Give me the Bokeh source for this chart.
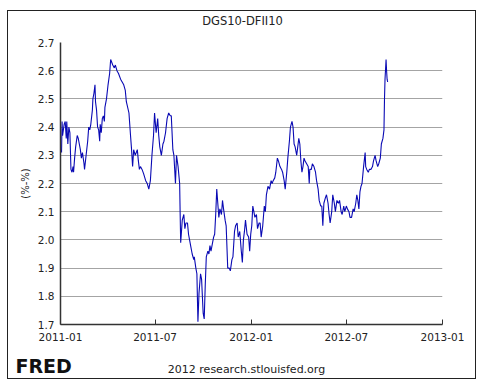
import pandas as pd
from bokeh.plotting import figure
from bokeh.layouts import column
from bokeh.core.properties import value
from bokeh.models import (Range1d, FixedTicker, PrintfTickFormatter,
                          DatetimeTickFormatter, ColumnDataSource)
from bokeh.embed import file_html
from bokeh.resources import INLINE

title_text = "DGS10-DFII10"
y_axis_title = "(%-%)"
footer_text = "2012 research.stlouisfed.org"
logo_text = "FRED"

x_tick_labels = ["2011-01", "2011-07", "2012-01", "2012-07", "2013-01"]
y_ticks = [1.7, 1.8, 1.9, 2.0, 2.1, 2.2, 2.3, 2.4, 2.5, 2.6, 2.7]

obs_dates = [
    "2011-01-03", "2011-01-04", "2011-01-05", "2011-01-08", "2011-01-10", "2011-01-12",
    "2011-01-13", "2011-01-15", "2011-01-17", "2011-01-19", "2011-01-21", "2011-01-23",
    "2011-01-25", "2011-01-26", "2011-01-28", "2011-01-30", "2011-02-02", "2011-02-04",
    "2011-02-06", "2011-02-08", "2011-02-10", "2011-02-12", "2011-02-15", "2011-02-16",
    "2011-02-19", "2011-02-22", "2011-02-24", "2011-02-26", "2011-02-28", "2011-03-03",
    "2011-03-04", "2011-03-06", "2011-03-08", "2011-03-09", "2011-03-11", "2011-03-13",
    "2011-03-15", "2011-03-17", "2011-03-18", "2011-03-20", "2011-03-22", "2011-03-24",
    "2011-03-26", "2011-03-27", "2011-03-30", "2011-04-02", "2011-04-05", "2011-04-07",
    "2011-04-09", "2011-04-11", "2011-04-14", "2011-04-16", "2011-04-19", "2011-04-22",
    "2011-04-26", "2011-04-29", "2011-05-02", "2011-05-05", "2011-05-07", "2011-05-12",
    "2011-05-15", "2011-05-17", "2011-05-19", "2011-05-21", "2011-05-24", "2011-05-28",
    "2011-05-30", "2011-06-01", "2011-06-03", "2011-06-06", "2011-06-09", "2011-06-13",
    "2011-06-16", "2011-06-19", "2011-06-22", "2011-06-25", "2011-06-28", "2011-06-30",
    "2011-07-03", "2011-07-06", "2011-07-08", "2011-07-10", "2011-07-13", "2011-07-16",
    "2011-07-18", "2011-07-21", "2011-07-24", "2011-07-27", "2011-07-30", "2011-08-01",
    "2011-08-04", "2011-08-06", "2011-08-09", "2011-08-11", "2011-08-14", "2011-08-17",
    "2011-08-18", "2011-08-19", "2011-08-22", "2011-08-25", "2011-08-27", "2011-08-29",
    "2011-09-01", "2011-09-03", "2011-09-05", "2011-09-07", "2011-09-10", "2011-09-13",
    "2011-09-14", "2011-09-17", "2011-09-19", "2011-09-21", "2011-09-23", "2011-09-26",
    "2011-09-28", "2011-10-01", "2011-10-03", "2011-10-05", "2011-10-07", "2011-10-10",
    "2011-10-12", "2011-10-14", "2011-10-16", "2011-10-19", "2011-10-21", "2011-10-23",
    "2011-10-25", "2011-10-27", "2011-10-29", "2011-10-31", "2011-11-02", "2011-11-05",
    "2011-11-07", "2011-11-09", "2011-11-12", "2011-11-14", "2011-11-17", "2011-11-20",
    "2011-11-22", "2011-11-25", "2011-11-27", "2011-11-30", "2011-12-02", "2011-12-05",
    "2011-12-07", "2011-12-10", "2011-12-13", "2011-12-15", "2011-12-17", "2011-12-19",
    "2011-12-21", "2011-12-24", "2011-12-27", "2011-12-29", "2011-12-31", "2012-01-02",
    "2012-01-04", "2012-01-06", "2012-01-08", "2012-01-11", "2012-01-13", "2012-01-16",
    "2012-01-18", "2012-01-20", "2012-01-23", "2012-01-26", "2012-01-28", "2012-01-30",
    "2012-02-02", "2012-02-05", "2012-02-08", "2012-02-10", "2012-02-12", "2012-02-15",
    "2012-02-17", "2012-02-20", "2012-02-22", "2012-02-25", "2012-02-28", "2012-03-01",
    "2012-03-04", "2012-03-06", "2012-03-09", "2012-03-11", "2012-03-14", "2012-03-16",
    "2012-03-19", "2012-03-21", "2012-03-23", "2012-03-25", "2012-03-28", "2012-03-30",
    "2012-04-01", "2012-04-03", "2012-04-05", "2012-04-07", "2012-04-09", "2012-04-11",
    "2012-04-13", "2012-04-16", "2012-04-19", "2012-04-21", "2012-04-22", "2012-04-25",
    "2012-04-27", "2012-04-30", "2012-05-03", "2012-05-05", "2012-05-08", "2012-05-10",
    "2012-05-13", "2012-05-15", "2012-05-17", "2012-05-19", "2012-05-22", "2012-05-24",
    "2012-05-27", "2012-05-29", "2012-05-31", "2012-06-03", "2012-06-05", "2012-06-08",
    "2012-06-10", "2012-06-13", "2012-06-16", "2012-06-18", "2012-06-21", "2012-06-23",
    "2012-06-26", "2012-06-28", "2012-07-01", "2012-07-03", "2012-07-06", "2012-07-08",
    "2012-07-11", "2012-07-14", "2012-07-16", "2012-07-19", "2012-07-21", "2012-07-23",
    "2012-07-25", "2012-07-27", "2012-07-29", "2012-07-31", "2012-08-03", "2012-08-06",
    "2012-08-07", "2012-08-09", "2012-08-12", "2012-08-14", "2012-08-17", "2012-08-20",
    "2012-08-22", "2012-08-25", "2012-08-27", "2012-08-30", "2012-09-01", "2012-09-04",
    "2012-09-06", "2012-09-09", "2012-09-11", "2012-09-12", "2012-09-13", "2012-09-15",
    "2012-09-16", "2012-09-17", "2012-09-18",
]

spread_values = [
    2.31, 2.42, 2.37, 2.41, 2.42, 2.36,
    2.42, 2.34, 2.40, 2.38, 2.25, 2.24,
    2.26, 2.24, 2.29, 2.33, 2.37, 2.36,
    2.34, 2.32, 2.29, 2.31, 2.27, 2.25,
    2.30, 2.35, 2.40, 2.39, 2.41, 2.46,
    2.50, 2.52, 2.55, 2.49, 2.46, 2.40,
    2.39, 2.35, 2.41, 2.38, 2.43, 2.44,
    2.42, 2.47, 2.50, 2.55, 2.59, 2.64,
    2.63, 2.62, 2.61, 2.62, 2.60, 2.59,
    2.57, 2.56, 2.55, 2.53, 2.49, 2.45,
    2.37, 2.32, 2.26, 2.32, 2.30, 2.32,
    2.28, 2.25, 2.26, 2.25, 2.235, 2.21,
    2.20, 2.18, 2.21, 2.30, 2.37, 2.45,
    2.38, 2.43, 2.37, 2.33, 2.30, 2.34,
    2.35, 2.38, 2.43, 2.45, 2.44, 2.44,
    2.32, 2.30, 2.20, 2.30, 2.26, 2.20,
    2.09, 1.99, 2.07, 2.09, 2.04, 2.06,
    2.06, 2.02, 2.00, 1.98, 1.95, 1.93,
    1.94, 1.90, 1.88, 1.71, 1.81, 1.88,
    1.86, 1.74, 1.72, 1.84, 1.94, 1.96,
    1.95, 1.98, 1.96, 1.99, 2.01, 2.02,
    2.09, 2.18, 2.13, 2.08, 2.11, 2.09,
    2.14, 2.11, 2.07, 2.05, 1.90, 1.90,
    1.89, 1.93, 1.94, 2.03, 2.05, 2.06,
    2.01, 2.03, 1.96, 1.92, 2.00, 2.03,
    2.07, 2.02, 2.01, 1.96, 2.02, 2.05,
    2.12, 2.10, 2.08, 2.09, 2.04, 2.06,
    2.06, 2.01, 2.05, 2.12, 2.10, 2.16,
    2.19, 2.18, 2.21, 2.20, 2.21, 2.22,
    2.24, 2.29, 2.28, 2.26, 2.25, 2.24,
    2.21, 2.18, 2.24, 2.29, 2.35, 2.40,
    2.42, 2.40, 2.34, 2.33, 2.30, 2.33,
    2.36, 2.34, 2.28, 2.24, 2.26, 2.29,
    2.28, 2.27, 2.26, 2.20, 2.25, 2.25,
    2.27, 2.26, 2.24, 2.21, 2.18, 2.14,
    2.12, 2.12, 2.05, 2.13, 2.15, 2.16,
    2.13, 2.09, 2.06, 2.10, 2.16, 2.13,
    2.10, 2.14, 2.13, 2.14, 2.10, 2.09,
    2.12, 2.10, 2.12, 2.11, 2.10, 2.08,
    2.08, 2.11, 2.10, 2.13, 2.16, 2.14,
    2.11, 2.17, 2.19, 2.20, 2.26, 2.31,
    2.26, 2.25, 2.24, 2.25, 2.25, 2.26,
    2.28, 2.30, 2.28, 2.26, 2.27, 2.29,
    2.34, 2.36, 2.39, 2.50, 2.57, 2.64,
    2.60, 2.57, 2.56,
]

source = ColumnDataSource(data=dict(date=pd.to_datetime(obs_dates), value=spread_values))

x_tick_ms = [pd.Timestamp(t + "-01").value // 10**6 for t in x_tick_labels]


def text_strip(height):
    s = figure(width=467, height=height, x_range=Range1d(0, 467), y_range=Range1d(0, height),
               min_border=0, x_axis_location=None, y_axis_location=None,
               output_backend="svg", toolbar_location=None,
               background_fill_color="white", border_fill_color="white")
    s.grid.grid_line_color = None
    s.outline_line_color = None
    s.frame_align = False
    return s


# header strip with the title
ph = text_strip(20)
ph.text(x=[234], y=[11], text=[title_text], text_font=value("DejaVu Sans"),
        text_font_size="11.5px", text_color="#222222",
        text_align="center", text_baseline="middle")

# main chart
p = figure(
    frame_width=382, frame_height=282,
    min_border_left=52, min_border_right=33, min_border_top=11, min_border_bottom=32,
    x_axis_type="datetime",
    x_range=Range1d(pd.Timestamp(x_tick_labels[0] + "-01"), pd.Timestamp(x_tick_labels[-1] + "-01")),
    y_range=Range1d(y_ticks[0], y_ticks[-1]),
    output_backend="svg", toolbar_location=None,
    background_fill_color="white", border_fill_color="white",
)
p.outline_line_color = None
p.frame_align = False

p.line("date", "value", source=source, line_color="#0a0ab4", line_width=1.1)

p.xaxis.ticker = FixedTicker(ticks=x_tick_ms)
p.xaxis.formatter = DatetimeTickFormatter(
    years="%Y-%m", months="%Y-%m", days="%Y-%m", hours="%Y-%m",
    minutes="%Y-%m", seconds="%Y-%m", milliseconds="%Y-%m", microseconds="%Y-%m")
p.yaxis.ticker = FixedTicker(ticks=y_ticks)
p.yaxis.formatter = PrintfTickFormatter(format="%.1f")

for ax in (p.xaxis[0], p.yaxis[0]):
    ax.axis_line_color = "#333333"
    ax.axis_line_width = 1.5
    ax.major_tick_line_color = "#333333"
    ax.minor_tick_line_color = None
    ax.major_label_text_font = "DejaVu Sans"
    ax.major_label_text_color = "#222222"
    ax.major_label_text_font_style = "normal"

p.xaxis.major_tick_in = 5
p.xaxis.major_tick_out = 0
p.xaxis.major_label_standoff = 8
p.xaxis.major_label_text_font_size = "10.5px"
p.yaxis.major_tick_in = 0
p.yaxis.major_tick_out = 0
p.yaxis.major_label_standoff = 6
p.yaxis.major_label_text_font_size = "10.5px"

p.yaxis.axis_label = y_axis_title
p.yaxis.axis_label_text_font = "DejaVu Sans"
p.yaxis.axis_label_text_font_size = "10px"
p.yaxis.axis_label_text_font_style = "normal"
p.yaxis.axis_label_text_color = "#222222"
p.yaxis.axis_label_standoff = 4

p.xgrid.grid_line_color = None
p.ygrid.grid_line_color = "#a4a4a4"
p.ygrid.grid_line_width = 1.2

# footer strip: FRED logo text and source credit
pf = text_strip(22)
pf.text(x=[7], y=[13], text=[logo_text], text_font=value("DejaVu Sans"),
        text_font_size="19px", text_font_style="bold", text_color="#111111",
        text_align="left", text_baseline="middle")
pf.text(x=[238], y=[9], text=[footer_text], text_font=value("DejaVu Sans"),
        text_font_size="11px", text_color="#222222",
        text_align="center", text_baseline="middle")

layout = column(ph, p, pf, spacing=0,
                styles={"border": "1px solid #222222", "margin-left": "7px", "margin-top": "10px"})

open("out.html", "w").write(file_html(layout, INLINE))
